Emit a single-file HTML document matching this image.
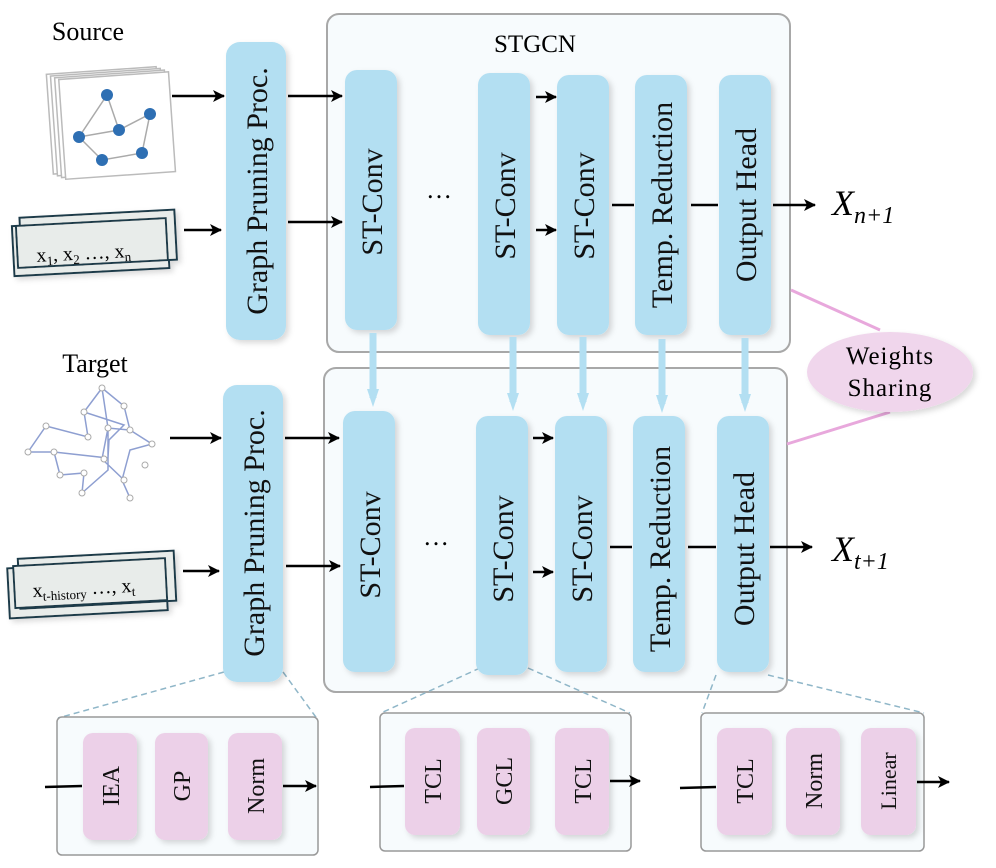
<!DOCTYPE html>
<html><head><meta charset="utf-8"><style>
html,body{margin:0;padding:0;background:#fff;}
svg text{font-family:"Liberation Serif",serif;}
</style></head><body>
<svg width="996" height="863" viewBox="0 0 996 863" xmlns="http://www.w3.org/2000/svg">
<defs>
<marker id="ah" markerWidth="12" markerHeight="12" refX="11" refY="6" orient="auto" markerUnits="userSpaceOnUse"><path d="M0,0 L12,6 L0,12 L3,6 z" fill="#000"/></marker>
<marker id="bh" markerWidth="18" markerHeight="12" refX="9" refY="6" orient="auto" markerUnits="userSpaceOnUse"><path d="M0,0 L18,6 L0,12 z" fill="#b3dff2"/></marker>
<filter id="sh" x="-20%" y="-10%" width="150%" height="130%"><feDropShadow dx="3" dy="3" stdDeviation="3" flood-color="#000" flood-opacity="0.15"/></filter>
</defs>

<text x="88" y="40" font-size="26" text-anchor="middle">Source</text>
<text x="95" y="372" font-size="26" text-anchor="middle">Target</text>

<g transform="rotate(-4 110 110)">
<rect x="49" y="70" width="110" height="100" fill="#fff" stroke="#bbb" stroke-width="1.5"/>
<rect x="53" y="72" width="110" height="100" fill="#fff" stroke="#bbb" stroke-width="1.5"/>
<rect x="57" y="74" width="110" height="100" fill="#fff" stroke="#bbb" stroke-width="1.5"/>
<rect x="61" y="76" width="110" height="100" fill="#fff" stroke="#bbb" stroke-width="1.5"/>
</g>
<g stroke="#aaa" stroke-width="1.5" fill="none">
<path d="M107,95 L79,137 L119,130 L150,114 L142,153 L102,160 L79,137 M107,95 L119,130"/>
</g>
<g fill="#2e6fb3"><circle cx="107" cy="95" r="6"/><circle cx="79" cy="137" r="6"/><circle cx="119" cy="130" r="6"/><circle cx="150" cy="114" r="6"/><circle cx="142" cy="153" r="6"/><circle cx="102" cy="160" r="6"/></g>

<g transform="rotate(-3 92 245)" filter="url(#sh)">
<rect x="13" y="222" width="155" height="50" fill="#e8ecea" stroke="#1e3a48" stroke-width="2"/>
<rect x="21" y="214" width="155" height="50" fill="#e8ecea" stroke="#1e3a48" stroke-width="2"/>
<rect x="17" y="222" width="150" height="42" fill="#e8ecea" stroke="#1e3a48" stroke-width="2"/>
</g>
<text x="36" y="259" font-size="20" transform="rotate(-3 92 245)">x<tspan font-size="13" dy="4">1</tspan><tspan dy="-4">, x</tspan><tspan font-size="13" dy="4">2</tspan><tspan dy="-4">  …,  x</tspan><tspan font-size="13" dy="4">n</tspan></text>

<g stroke="#8e9fd1" stroke-width="1.5" fill="none">
<path d="M102,388 L84,412 L124,425 L109,440 L108,458 L54,452 L28,452 L46,426 L88,437 L84,412 M102,388 L108,428 L108,470 L82,493 M102,388 L124,406 L130,430 L152,444 L130,450 L122,480 L130,498 M60,475 L84,473 L82,493 M54,452 L60,475 M130,430 L108,428 L102,459 L124,480"/>
</g>
<g fill="#fff" stroke="#aaa" stroke-width="1"><circle cx="102" cy="388" r="3"/><circle cx="84" cy="412" r="3"/><circle cx="124" cy="406" r="3"/><circle cx="88" cy="437" r="3"/><circle cx="108" cy="428" r="3"/><circle cx="130" cy="430" r="3"/><circle cx="152" cy="444" r="3"/><circle cx="46" cy="426" r="3"/><circle cx="28" cy="452" r="3"/><circle cx="54" cy="452" r="3"/><circle cx="60" cy="475" r="3"/><circle cx="84" cy="473" r="3"/><circle cx="82" cy="493" r="3"/><circle cx="130" cy="498" r="3"/><circle cx="104" cy="459" r="3"/><circle cx="124" cy="480" r="3"/><circle cx="145" cy="465" r="3"/></g>

<g transform="rotate(-3 92 580)" filter="url(#sh)">
<rect x="8" y="564" width="158" height="50" fill="#e8ecea" stroke="#1e3a48" stroke-width="2"/>
<rect x="19" y="555" width="156" height="50" fill="#e8ecea" stroke="#1e3a48" stroke-width="2"/>
<rect x="14" y="562" width="152" height="42" fill="#e8ecea" stroke="#1e3a48" stroke-width="2"/>
</g>
<text x="32" y="594" font-size="20" transform="rotate(-3 92 580)">x<tspan font-size="13" dy="4">t-history</tspan><tspan dy="-4">  …,  x</tspan><tspan font-size="13" dy="4">t</tspan></text>

<rect x="327" y="14" width="463" height="338" rx="12" fill="#f7fbfd" stroke="#a8a8a8" stroke-width="2"/>
<rect x="324" y="368" width="463" height="324" rx="12" fill="#f7fbfd" stroke="#a8a8a8" stroke-width="2"/>
<text x="535" y="52" font-size="25" text-anchor="middle">STGCN</text>

<g stroke="#8fb6c8" stroke-width="1.5" stroke-dasharray="6,4" fill="none">
<line x1="224" y1="672" x2="58" y2="718"/><line x1="283" y1="672" x2="318" y2="720"/>
<line x1="480" y1="668" x2="381" y2="713"/><line x1="528" y1="668" x2="630" y2="713"/>
<line x1="716" y1="675" x2="702" y2="713"/><line x1="768" y1="675" x2="924" y2="713"/>
</g>

<g fill="#b3dff2" filter="url(#sh)">
<rect x="226" y="42" width="60" height="298" rx="14"/>
<rect x="223" y="385" width="60" height="297" rx="14"/>
<rect x="345" y="70" width="52" height="260" rx="12"/>
<rect x="478" y="73" width="52" height="262" rx="12"/>
<rect x="557" y="75" width="52" height="260" rx="12"/>
<rect x="635" y="75" width="52" height="260" rx="12"/>
<rect x="719" y="75" width="52" height="260" rx="12"/>
<rect x="343" y="411" width="52" height="261" rx="12"/>
<rect x="476" y="416" width="52" height="259" rx="12"/>
<rect x="555" y="416" width="52" height="256" rx="12"/>
<rect x="633" y="416" width="52" height="256" rx="12"/>
<rect x="717" y="416" width="52" height="256" rx="12"/>
</g>

<g stroke="#b3dff2" stroke-width="7" fill="none">
<line x1="373" y1="333" x2="373" y2="398" marker-end="url(#bh)"/>
<line x1="513" y1="337" x2="513" y2="402" marker-end="url(#bh)"/>
<line x1="583" y1="337" x2="583" y2="402" marker-end="url(#bh)"/>
<line x1="662" y1="339" x2="662" y2="404" marker-end="url(#bh)"/>
<line x1="745" y1="338" x2="745" y2="403" marker-end="url(#bh)"/>
</g>

<g font-size="30" text-anchor="middle" fill="#111">
<text transform="translate(267 191) rotate(-90)">Graph Pruning Proc.</text>
<text transform="translate(264 533) rotate(-90)">Graph Pruning Proc.</text>
<text transform="translate(382 202) rotate(-90)">ST-Conv</text>
<text transform="translate(515 206) rotate(-90)">ST-Conv</text>
<text transform="translate(594 206) rotate(-90)">ST-Conv</text>
<text transform="translate(672 205) rotate(-90)">Temp. Reduction</text>
<text transform="translate(756 205) rotate(-90)">Output Head</text>
<text transform="translate(380 545) rotate(-90)">ST-Conv</text>
<text transform="translate(513 549) rotate(-90)">ST-Conv</text>
<text transform="translate(592 549) rotate(-90)">ST-Conv</text>
<text transform="translate(670 549) rotate(-90)">Temp. Reduction</text>
<text transform="translate(754 549) rotate(-90)">Output Head</text>
</g>
<text x="439" y="198" font-size="26" text-anchor="middle">…</text>
<text x="436" y="545" font-size="26" text-anchor="middle">…</text>

<g stroke="#000" stroke-width="2.5" fill="none">
<line x1="172" y1="96" x2="224" y2="96" marker-end="url(#ah)"/>
<line x1="184" y1="230" x2="221" y2="230" marker-end="url(#ah)"/>
<line x1="288" y1="96" x2="342" y2="96" marker-end="url(#ah)"/>
<line x1="288" y1="222" x2="342" y2="222" marker-end="url(#ah)"/>
<line x1="536" y1="97" x2="556" y2="97" marker-end="url(#ah)"/>
<line x1="536" y1="230" x2="556" y2="230" marker-end="url(#ah)"/>
<line x1="612" y1="205" x2="634" y2="205"/>
<line x1="691" y1="205" x2="718" y2="205"/>
<line x1="773" y1="205" x2="815" y2="205" marker-end="url(#ah)"/>
</g>
<g stroke="#000" stroke-width="2.5" fill="none">
<line x1="170" y1="438" x2="221" y2="438" marker-end="url(#ah)"/>
<line x1="183" y1="571" x2="219" y2="571" marker-end="url(#ah)"/>
<line x1="285" y1="438" x2="339" y2="438" marker-end="url(#ah)"/>
<line x1="286" y1="566" x2="340" y2="566" marker-end="url(#ah)"/>
<line x1="533" y1="438" x2="553" y2="438" marker-end="url(#ah)"/>
<line x1="533" y1="572" x2="553" y2="572" marker-end="url(#ah)"/>
<line x1="610" y1="547" x2="632" y2="547"/>
<line x1="688" y1="547" x2="716" y2="547"/>
<line x1="770" y1="547" x2="812" y2="547" marker-end="url(#ah)"/>
</g>
<text x="832" y="215" font-size="36" font-style="italic">X<tspan font-size="24" dy="8">n+1</tspan></text>
<text x="832" y="561" font-size="36" font-style="italic">X<tspan font-size="24" dy="8">t+1</tspan></text>

<g stroke="#e8a8dc" stroke-width="3"><line x1="791" y1="290" x2="880" y2="330"/><line x1="787" y1="444" x2="890" y2="412"/></g>
<ellipse cx="890" cy="372" rx="83" ry="40" fill="#f0d6ec" filter="url(#sh)"/>
<text x="890" y="364" font-size="25" text-anchor="middle" letter-spacing="1">Weights</text>
<text x="890" y="396" font-size="25" text-anchor="middle" letter-spacing="1">Sharing</text>

<rect x="57" y="717" width="261" height="138" rx="5" fill="#f7fbfd" stroke="#999" stroke-width="1.5"/>
<rect x="380" y="713" width="251" height="138" rx="5" fill="#f7fbfd" stroke="#999" stroke-width="1.5"/>
<rect x="701" y="713" width="223" height="138" rx="5" fill="#f7fbfd" stroke="#999" stroke-width="1.5"/>
<g fill="#ecd0e8" filter="url(#sh)">
<rect x="83" y="733" width="54" height="107" rx="10"/>
<rect x="155" y="733" width="53" height="107" rx="10"/>
<rect x="228" y="733" width="54" height="107" rx="10"/>
<rect x="405" y="728" width="55" height="107" rx="10"/>
<rect x="477" y="728" width="53" height="107" rx="10"/>
<rect x="555" y="728" width="54" height="107" rx="10"/>
<rect x="717" y="728" width="55" height="107" rx="10"/>
<rect x="786" y="728" width="54" height="107" rx="10"/>
<rect x="861" y="728" width="55" height="107" rx="10"/>
</g>
<g font-size="24" text-anchor="middle" fill="#111">
<text transform="translate(119 786) rotate(-90)">IEA</text>
<text transform="translate(190 786) rotate(-90)">GP</text>
<text transform="translate(264 786) rotate(-90)">Norm</text>
<text transform="translate(441 781) rotate(-90)">TCL</text>
<text transform="translate(512 781) rotate(-90)">GCL</text>
<text transform="translate(591 781) rotate(-90)">TCL</text>
<text transform="translate(753 781) rotate(-90)">TCL</text>
<text transform="translate(822 781) rotate(-90)">Norm</text>
<text transform="translate(896 781) rotate(-90)" font-size="22">Linear</text>
</g>
<g stroke="#000" stroke-width="2.5" fill="none">
<line x1="45" y1="787" x2="82" y2="786"/>
<line x1="283" y1="786" x2="316" y2="786" marker-end="url(#ah)"/>
<line x1="370" y1="787" x2="404" y2="786"/>
<line x1="610" y1="781" x2="640" y2="781" marker-end="url(#ah)"/>
<line x1="680" y1="788" x2="716" y2="787"/>
<line x1="917" y1="782" x2="949" y2="782" marker-end="url(#ah)"/>
</g>
</svg>
</body></html>
